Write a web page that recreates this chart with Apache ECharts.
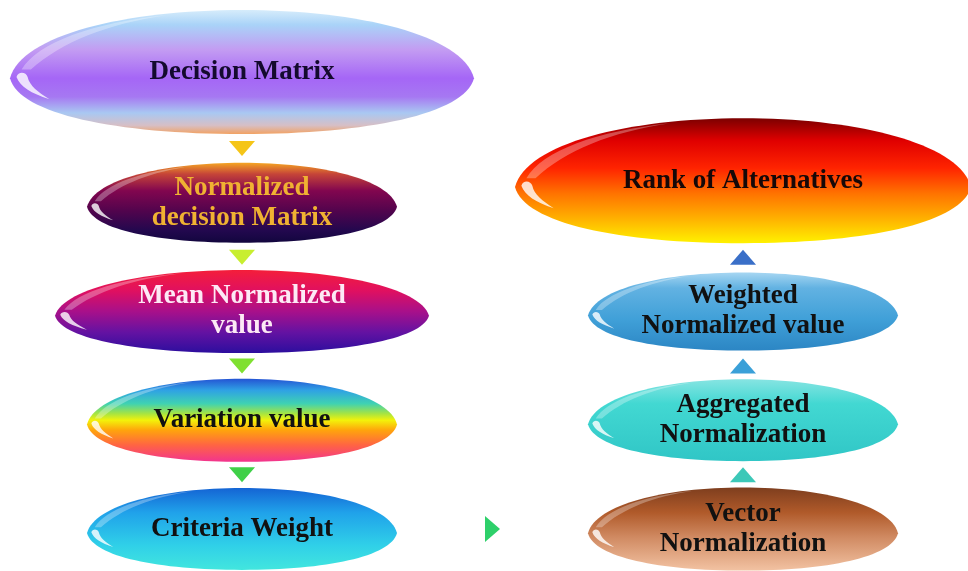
<!DOCTYPE html>
<html>
<head>
<meta charset="utf-8">
<style>
html, body { margin: 0; padding: 0; background: #fff; }
#chart { width: 968px; height: 571px; }
</style>
<script src="https://cdn.jsdelivr.net/npm/echarts@6/dist/echarts.min.js"></script>
</head>
<body>
<div id="chart"></div>
<script>
// left column runs downward, right column runs upward
var leftSteps = ['Decision Matrix', 'Normalized\ndecision Matrix', 'Mean Normalized\nvalue', 'Variation value', 'Criteria Weight'];
var leftRows = [0, 1, 2, 3, 4];
var rightSteps = ['Rank of Alternatives', 'Weighted\nNormalized value', 'Aggregated\nNormalization', 'Vector\nNormalization'];
var rightRows = [1, 2, 3, 4];
// arrows sit half way between two rows
var downArrowRows = [0.5, 1.5, 2.5, 3.5];
var upArrowRows = [1.5, 2.5, 3.5];
var bridgeArrow = [0.5, 4];

// lens-like ellipse, tips a little below the middle
var LENS = 'path://M0,55C2.5,20 25,0 50,0C75,0 97.5,20 100,55C98,84 77,100 50,100C23,100 2,84 0,55Z';
// white crescent on the lower left edge; the two empty sub paths pin the 100x100 box
var CRESCENT = 'path://M0,0L0.01,0M100,100L100.01,100M1.4,54C2.2,62 4.5,67 8.5,72C6,66 4.2,61 3.8,54C3.5,50 1.8,49 1.4,54Z';
// thin light rim on the upper left edge
var RIM = 'path://M0,0L0.01,0M100,100L100.01,100M2.5,48C6,26 18,10 34,4C21,11 11,26 4.5,48Z';

// look of every ellipse, keyed by label
var looks = {
	'Decision Matrix': {
		size: [464, 124], offset: [0, -22], text: '#140a2e',
		stops: [[0, '#d6ecfb'], [0.12, '#a9d3f8'], [0.32, '#c39cf2'], [0.55, '#a566f6'], [0.7, '#a678f2'], [0.83, '#a9c8f2'], [0.93, '#d6bfc6'], [1, '#f2a263']]
	},
	'Normalized\ndecision Matrix': {
		size: [310, 80], text: '#f0b232',
		stops: [[0, '#f5a623'], [0.14, '#c64538'], [0.35, '#82064f'], [0.6, '#52044d'], [0.85, '#22084e'], [1, '#12063e']]
	},
	'Mean Normalized\nvalue': {
		size: [374, 83], text: '#fde9f5',
		stops: [[0, '#f41e3a'], [0.25, '#e01060'], [0.5, '#a8108a'], [0.75, '#6412a2'], [1, '#2c0e9e']]
	},
	'Variation value': {
		size: [310, 83], text: '#111',
		stops: [[0, '#2454d4'], [0.14, '#2fa2e4'], [0.3, '#3fd2b2'], [0.42, '#a6e442'], [0.5, '#f3f20a'], [0.62, '#ffa40c'], [0.8, '#ff6443'], [1, '#f2348e']]
	},
	'Criteria Weight': {
		size: [310, 82], text: '#111',
		stops: [[0, '#1464d4'], [0.3, '#20a2ea'], [0.7, '#30d0e8'], [1, '#42e6de']]
	},
	'Rank of Alternatives': {
		size: [456, 125], offset: [0, -22], text: '#160808',
		stops: [[0, '#7c0000'], [0.18, '#e00000'], [0.4, '#ff2400'], [0.6, '#ff7200'], [0.8, '#ffb000'], [1, '#fff200']]
	},
	'Weighted\nNormalized value': {
		size: [310, 78], text: '#111',
		stops: [[0, '#a6d6f2'], [0.2, '#62b2e2'], [0.6, '#40a0d8'], [1, '#2c86c4']]
	},
	'Aggregated\nNormalization': {
		size: [310, 82], text: '#111',
		stops: [[0, '#86e4e2'], [0.3, '#42d8d2'], [1, '#30c6c6']]
	},
	'Vector\nNormalization': {
		size: [310, 83], text: '#111',
		stops: [[0, '#7e3e1e'], [0.3, '#b05a2a'], [0.6, '#d08a62'], [1, '#f2c2a2']]
	}
};

var downArrowColors = ['#f5c518', '#c8ee30', '#7fe030', '#3fd048'];
var upArrowColors = ['#3a6fc8', '#3aa0d8', '#3cc8b8'];

function grad(stops) {
	return {
		type: 'linear', x: 0, y: 0, x2: 0, y2: 1,
		colorStops: stops.map(function (s) { return { offset: s[0], color: s[1] }; })
	};
}

function node(name, col, row) {
	var lk = looks[name];
	return {
		name: name,
		value: [col, row],
		symbolSize: lk.size,
		symbolOffset: lk.offset || [0, 0],
		itemStyle: { color: grad(lk.stops), opacity: 1 },
		label: { color: lk.text }
	};
}

function overlay(name, col, row) {
	var lk = looks[name];
	return { value: [col, row], symbolSize: lk.size, symbolOffset: lk.offset || [0, 0] };
}

var nodes = [];
var overlays = [];
leftSteps.forEach(function (s, i) {
	nodes.push(node(s, 0, leftRows[i]));
	overlays.push(overlay(s, 0, leftRows[i]));
});
rightSteps.forEach(function (s, i) {
	nodes.push(node(s, 1, rightRows[i]));
	overlays.push(overlay(s, 1, rightRows[i]));
});

var arrows = [];
downArrowRows.forEach(function (r, i) {
	arrows.push({ value: [0, r], symbolRotate: 180, itemStyle: { color: downArrowColors[i] } });
});
upArrowRows.forEach(function (r, i) {
	arrows.push({ value: [1, r], symbolRotate: 0, itemStyle: { color: upArrowColors[i] } });
});
arrows.push({ value: bridgeArrow, symbolRotate: -90, itemStyle: { color: '#2ed06a' } });

var chart = echarts.init(document.getElementById('chart'));
chart.setOption({
	animation: false,
	grid: { left: 242, right: 225, top: 94, bottom: 42 },
	xAxis: { type: 'value', min: 0, max: 1, show: false },
	yAxis: { type: 'value', min: 0, max: 4, inverse: true, show: false },
	series: [
		{
			type: 'scatter',
			symbol: LENS,
			data: nodes,
			silent: true,
			z: 2,
			itemStyle: { opacity: 1 },
			label: {
				show: true,
				position: 'inside',
				formatter: '{b}',
				fontFamily: 'Liberation Serif',
				fontWeight: 'bold',
				fontSize: 27,
				lineHeight: 30,
				align: 'center'
			}
		},
		{
			type: 'scatter',
			symbol: RIM,
			data: overlays,
			silent: true,
			z: 3,
			itemStyle: { color: 'rgba(255,255,255,0.3)', opacity: 1 }
		},
		{
			type: 'scatter',
			symbol: CRESCENT,
			data: overlays,
			silent: true,
			z: 3,
			itemStyle: { color: 'rgba(255,255,255,0.8)', opacity: 1 }
		},
		{
			type: 'scatter',
			symbol: 'triangle',
			symbolSize: [26, 15],
			data: arrows,
			silent: true,
			z: 2,
			itemStyle: { opacity: 1 }
		}
	]
});
</script>
</body>
</html>
